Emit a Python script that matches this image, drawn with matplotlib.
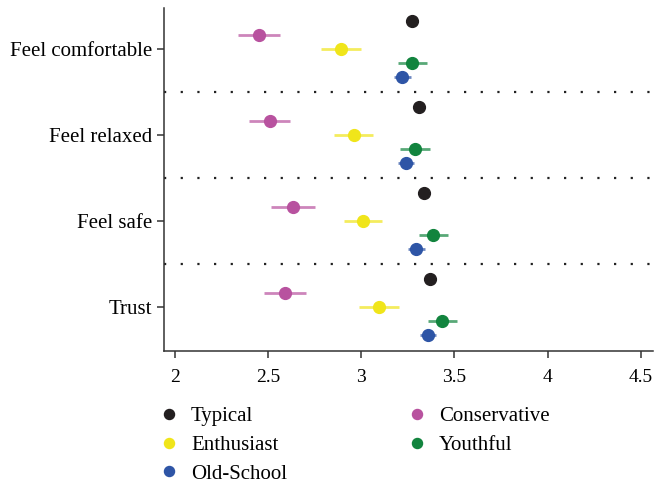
import matplotlib
matplotlib.use("Agg")
import matplotlib.pyplot as plt
import numpy as np

plt.rcParams['font.family'] = ['Liberation Serif', 'DejaVu Serif']

items = ["Feel comfortable", "Feel relaxed", "Feel safe", "Trust"]
groups = ["Typical", "Conservative", "Enthusiast", "Youthful", "Old-School"]
colors = ["#231f20", "#b8529f", "#f0e51a", "#12843e", "#2e55a6"]

# mean and half-width of interval, one row per item
typical      = [3.274, 3.310, 3.335, 3.367]
typical_err  = [0.031, 0.031, 0.033, 0.032]
conserv      = [2.449, 2.508, 2.631, 2.588]
conserv_err  = [0.111, 0.110, 0.119, 0.114]
enthus       = [2.891, 2.959, 3.007, 3.093]
enthus_err   = [0.106, 0.105, 0.102, 0.107]
youth        = [3.274, 3.289, 3.387, 3.435]
youth_err    = [0.078, 0.082, 0.079, 0.078]
oldschool    = [3.219, 3.239, 3.294, 3.358]
oldschool_err = [0.046, 0.044, 0.045, 0.043]

means = [typical, conserv, enthus, youth, oldschool]
errs = [typical_err, conserv_err, enthus_err, youth_err, oldschool_err]

fig = plt.figure(figsize=(6.54, 4.83), dpi=100)
ax = fig.add_axes([0.251, 0.273, 0.747, 0.71])

base = np.arange(len(items))[::-1] + 1.0
offsets = [0.326, 0.163, 0.0, -0.163, -0.326]

handles = []
for g, m, e, c, off in zip(groups, means, errs, colors, offsets):
    ax.errorbar(m, base + off, xerr=e, fmt="none", ecolor=c, elinewidth=2.0,
                alpha=0.7, capsize=0)
    h, = ax.plot(m, base + off, "o", color=c, markersize=8.5, label=g,
                 linestyle="none")
    handles.append(h)

for y in base[:-1] - 0.5:
    ax.axhline(y, color="#222222", linestyle=(0, (1, 6.5)), linewidth=1.6)

ax.set_xlim(1.94, 4.565)
ax.set_ylim(0.49, 4.48)
ax.set_yticks(base)
ax.set_yticklabels(items, fontsize=15)
ax.set_xticks([2, 2.5, 3, 3.5, 4, 4.5])
ax.set_xticklabels(["2", "2.5", "3", "3.5", "4", "4.5"], fontsize=14)
ax.tick_params(color="#333333", length=5, width=1.1)
ax.tick_params(axis="x", pad=8)
for s in ["top", "right"]:
    ax.spines[s].set_visible(False)
for s in ["left", "bottom"]:
    ax.spines[s].set_color("#333333")
    ax.spines[s].set_linewidth(1.1)

order = [0, 2, 4, 1, 3]
fig.legend([handles[i] for i in order], [groups[i] for i in order],
           loc="upper left", bbox_to_anchor=(0.214, 0.197), ncol=2,
           frameon=False, fontsize=15, handletextpad=0.55,
           columnspacing=5.75, labelspacing=0.44, markerscale=0.85,
           handlelength=1.0)

fig.savefig("out.png", dpi=100)
